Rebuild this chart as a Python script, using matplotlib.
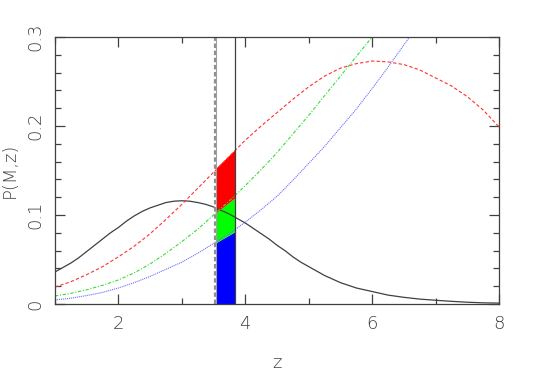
import numpy as np
import matplotlib
matplotlib.use("Agg")
import matplotlib.pyplot as plt
from matplotlib.ticker import MultipleLocator

# redshift grid the curves were read on
z = [1.00, 1.25, 1.50, 1.75, 2.00, 2.25, 2.50, 2.75, 3.00, 3.25, 3.50, 3.75,
     4.00, 4.25, 4.50, 4.75, 5.00, 5.25, 5.50, 5.75, 6.00, 6.25, 6.50, 6.75,
     7.00, 7.25, 7.50, 7.75, 8.00]

# black curve read on a finer grid up to z=5 (it bends more)
z_black = [1.000, 1.125, 1.250, 1.375, 1.500, 1.625, 1.750, 1.875, 2.000, 2.125,
           2.250, 2.375, 2.500, 2.625, 2.750, 2.875, 3.000, 3.125, 3.250, 3.375,
           3.500, 3.625, 3.750, 3.875, 4.000, 4.125, 4.250, 4.375, 4.500, 4.625,
           4.750, 4.875, 5.000, 5.25, 5.50, 5.75, 6.00, 6.25, 6.50, 6.75, 7.00,
           7.25, 7.50, 7.75, 8.00]
p_black = [0.036, 0.041, 0.046, 0.052, 0.059, 0.066, 0.073, 0.080, 0.086, 0.093,
           0.099, 0.104, 0.108, 0.111, 0.114, 0.1155, 0.116, 0.1155, 0.114, 0.112,
           0.109, 0.105, 0.101, 0.096, 0.091, 0.085, 0.079, 0.073, 0.066, 0.060,
           0.053, 0.047, 0.042, 0.032, 0.024, 0.018, 0.014, 0.010, 0.0075, 0.0055,
           0.0042, 0.003, 0.002, 0.0013, 0.001]

p_red = [0.019, 0.025, 0.033, 0.042, 0.053, 0.065, 0.079, 0.095, 0.112, 0.130,
         0.148, 0.166, 0.184, 0.200, 0.215, 0.230, 0.244, 0.256, 0.265, 0.270,
         0.273, 0.272, 0.269, 0.263, 0.254, 0.245, 0.233, 0.218, 0.199]

z_green = z[:22]
p_green = [0.009, 0.012, 0.016, 0.021, 0.027, 0.035, 0.045, 0.057, 0.070, 0.084,
           0.100, 0.116, 0.133, 0.151, 0.170, 0.191, 0.212, 0.234, 0.256, 0.278,
           0.300, 0.322]

z_blue = z[:24]
p_blue = [0.0045, 0.0065, 0.0095, 0.013, 0.018, 0.024, 0.031, 0.039, 0.047, 0.057,
          0.068, 0.079, 0.092, 0.106, 0.121, 0.139, 0.158, 0.177, 0.198, 0.219,
          0.242, 0.266, 0.291, 0.316]

# shaded redshift bin
bin_z = [3.54, 3.83]
bin_blue = [0.069, 0.081]
bin_green = [0.1026, 0.119]
bin_red = [0.153, 0.173]

z_dashed = 3.52
z_grey = 3.54
z_solid = 3.84

fg = "#404040"

fig = plt.figure(figsize=(5.55, 3.82), dpi=100)
ax = fig.add_axes([0.0991, 0.2042, 0.8, 0.699])

ax.fill_between(bin_z, 0, bin_blue, color="#0000ff", lw=0)
ax.fill_between(bin_z, bin_blue, bin_green, color="#00ff00", lw=0)
ax.fill_between(bin_z, bin_green, bin_red, color="#ff0000", lw=0)

ax.plot(z_black, p_black, color="#404040", lw=0.9)
ax.plot(z, p_red, color="#ff3030", lw=0.8, ls=(0, (3, 2)))
ax.plot(z_green, p_green, color="#30e030", lw=0.8, ls=(0, (3, 1.5, 1, 1.5)))
ax.plot(z_blue, p_blue, color="#7070ff", lw=0.8, ls=(0, (1, 0.8)))

ax.axvline(z_dashed, color="#909090", lw=1.6, ls=(0, (2, 1.2)))
ax.axvline(z_grey, color="#a0a0a0", lw=0.8)
ax.axvline(z_solid, color=fg, lw=0.9)

ax.set_xlim(1, 8)
ax.set_ylim(0, 0.3)
ax.xaxis.set_major_locator(MultipleLocator(2))
ax.xaxis.set_minor_locator(MultipleLocator(1))
ax.yaxis.set_major_locator(MultipleLocator(0.1))
ax.yaxis.set_minor_locator(MultipleLocator(0.02))
ax.set_xticks([2, 4, 6, 8])
ax.set_xticklabels(["2", "4", "6", "8"])
ax.set_yticks([0, 0.1, 0.2, 0.3])
ax.set_yticklabels(["0", "0.1", "0.2", "0.3"])

ax.tick_params(which="both", direction="in", top=True, right=True, color=fg,
               width=0.9, labelcolor=fg, labelsize=13)
ax.tick_params(which="major", length=7, pad=8)
ax.tick_params(which="minor", length=4)
for lab in ax.get_yticklabels():
    lab.set_rotation(90)
    lab.set_va("center")
for lab in ax.get_xticklabels() + ax.get_yticklabels():
    lab.set_fontweight("light")

for s in ax.spines.values():
    s.set_color(fg)
    s.set_linewidth(0.9)

ax.set_xlabel("z", fontsize=13, color=fg, fontweight="light", labelpad=15)
ax.set_ylabel("P(M,z)", fontsize=13, color=fg, fontweight="light", labelpad=5)

fig.savefig("out.png", dpi=100)
